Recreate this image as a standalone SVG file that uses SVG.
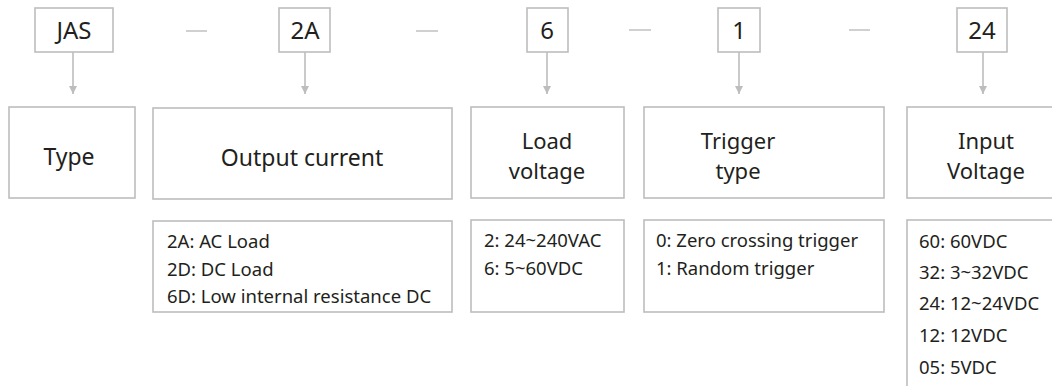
<svg xmlns="http://www.w3.org/2000/svg" width="1052" height="386" viewBox="0 0 1052 386">
<style>
.box{fill:#fff;stroke:#bdbdbd;stroke-width:1.6}
.t{font-family:"Noto Sans","Liberation Sans",sans-serif;fill:#231f20}
.code{font-size:24px;text-anchor:middle}
.lbl{font-size:23px;text-anchor:middle}
.lbl2{font-size:22px;text-anchor:middle}
.d{font-size:18.5px}
.conn line{stroke:#bdbdbd;stroke-width:1.6}
.dash{stroke:#c4c4c4;stroke-width:1.6}
</style>
<defs>
<marker id="ah" viewBox="0 0 8 8" refX="8" refY="4" markerWidth="8" markerHeight="8" markerUnits="userSpaceOnUse" orient="auto">
<path d="M0,0 L8,4 L0,8 Z" fill="#bdbdbd"/>
</marker>
</defs>
<rect width="1052" height="386" fill="#fff"/>
<g id="code-jas"><rect class="box" x="35" y="8" width="78" height="44"/><text class="t code" x="74" y="39">JAS</text></g>
<g id="code-2a"><rect class="box" x="279" y="8" width="51" height="44"/><text class="t code" x="305" y="39">2A</text></g>
<g id="code-6"><rect class="box" x="527" y="8" width="41" height="44"/><text class="t code" x="547" y="39">6</text></g>
<g id="code-1"><rect class="box" x="718" y="8" width="42" height="44"/><text class="t code" x="739" y="39">1</text></g>
<g id="code-24"><rect class="box" x="957" y="8" width="50" height="44"/><text class="t code" x="982" y="39">24</text></g>
<g id="dashes">
<line class="dash" x1="186" y1="31" x2="207" y2="31"/>
<line class="dash" x1="416" y1="31" x2="438" y2="31"/>
<line class="dash" x1="629" y1="30" x2="651" y2="30"/>
<line class="dash" x1="849" y1="30" x2="870" y2="30"/>
</g>
<g id="connectors" class="conn">
<line x1="73" y1="52" x2="73" y2="94" marker-end="url(#ah)"/>
<line x1="305" y1="52" x2="305" y2="94" marker-end="url(#ah)"/>
<line x1="547" y1="52" x2="547" y2="94" marker-end="url(#ah)"/>
<line x1="739" y1="52" x2="739" y2="94" marker-end="url(#ah)"/>
<line x1="983" y1="52" x2="983" y2="94" marker-end="url(#ah)"/>
</g>
<g id="type"><rect class="box" x="9" y="107" width="126" height="91"/><text class="t lbl" x="69" y="165">Type</text></g>
<g id="output-current"><rect class="box" x="153" y="108" width="299" height="91"/><text class="t lbl" x="302" y="166">Output current</text></g>
<g id="load-voltage"><rect class="box" x="471" y="107" width="153" height="91"/><text class="t lbl2" x="547" y="149">Load</text><text class="t lbl2" x="547" y="179">voltage</text></g>
<g id="trigger-type"><rect class="box" x="644" y="107" width="240" height="91"/><text class="t lbl2" x="738" y="149">Trigger</text><text class="t lbl2" x="738" y="179">type</text></g>
<g id="input-voltage"><rect class="box" x="907" y="107" width="160" height="91"/><text class="t lbl2" x="986" y="149">Input</text><text class="t lbl2" x="986" y="179">Voltage</text></g>
<g id="output-current-options"><rect class="box" x="153" y="221" width="299" height="91"/>
<text class="t d" x="167" y="248">2A: AC Load</text>
<text class="t d" x="167" y="276">2D: DC Load</text>
<text class="t d" x="167" y="303">6D: Low internal resistance DC</text></g>
<g id="load-voltage-options"><rect class="box" x="471" y="220" width="153" height="92"/>
<text class="t d" x="484" y="247">2: 24~240VAC</text>
<text class="t d" x="484" y="275">6: 5~60VDC</text></g>
<g id="trigger-type-options"><rect class="box" x="644" y="220" width="240" height="92"/>
<text class="t d" x="656" y="247">0: Zero crossing trigger</text>
<text class="t d" x="656" y="275">1: Random trigger</text></g>
<g id="input-voltage-options"><rect class="box" x="907" y="220" width="160" height="180"/>
<text class="t d" x="919" y="248">60: 60VDC</text>
<text class="t d" x="919" y="279">32: 3~32VDC</text>
<text class="t d" x="919" y="310">24: 12~24VDC</text>
<text class="t d" x="919" y="342">12: 12VDC</text>
<text class="t d" x="919" y="374">05: 5VDC</text></g>
</svg>
